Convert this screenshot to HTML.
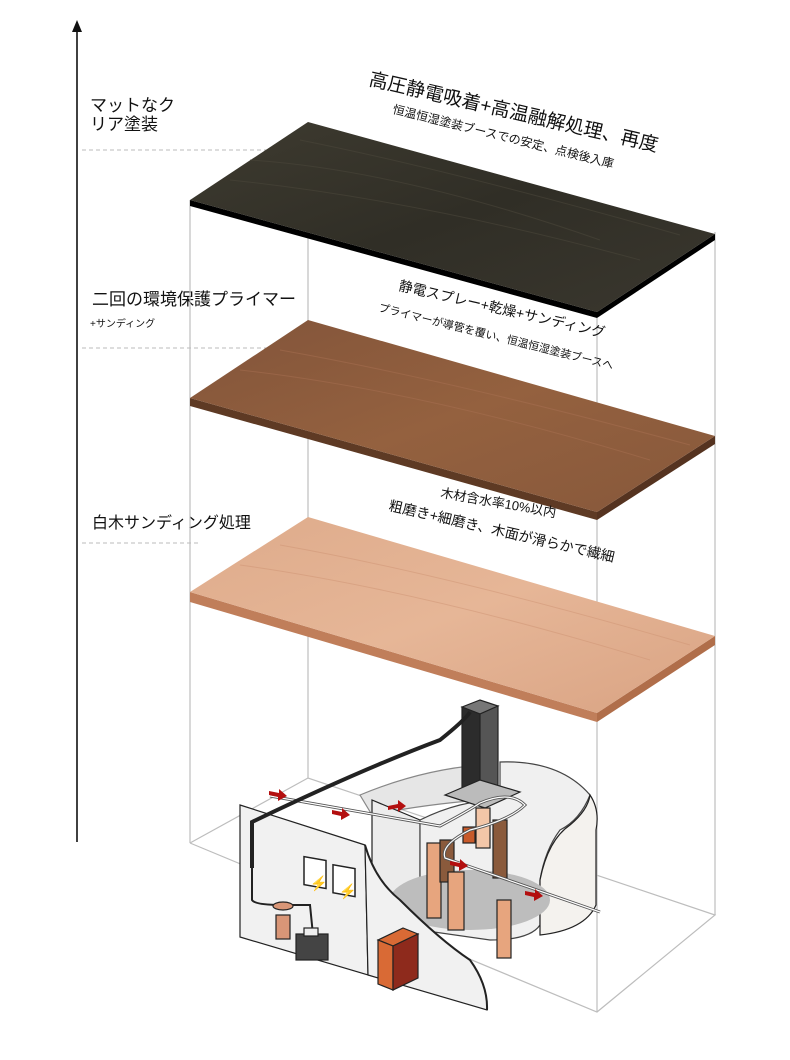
<!DOCTYPE html>
<html><head><meta charset="utf-8"><style>
html,body{margin:0;padding:0;background:#fff}
svg{display:block}
text{font-family:"Liberation Sans","Noto Sans CJK JP",sans-serif;fill:#111}
</style></head><body>
<svg width="790" height="1060" viewBox="0 0 790 1060" xmlns="http://www.w3.org/2000/svg">
<defs>
<linearGradient id="dk" x1="0" y1="0" x2="1" y2="1"><stop offset="0" stop-color="#3e3b30"/><stop offset="0.5" stop-color="#302e26"/><stop offset="1" stop-color="#3a372e"/></linearGradient>
<linearGradient id="md" x1="0" y1="0" x2="1" y2="1"><stop offset="0" stop-color="#82543a"/><stop offset="0.5" stop-color="#94613f"/><stop offset="1" stop-color="#87583b"/></linearGradient>
<linearGradient id="lt" x1="0" y1="0" x2="1" y2="1"><stop offset="0" stop-color="#deab8b"/><stop offset="0.5" stop-color="#e6b697"/><stop offset="1" stop-color="#d9a383"/></linearGradient>
<radialGradient id="flr" cx="0.5" cy="0.5" r="0.6"><stop offset="0" stop-color="#bdbdbd"/><stop offset="1" stop-color="#e8e8e8"/></radialGradient>
</defs>
<line x1="77" y1="30" x2="77" y2="842" stroke="#111" stroke-width="1.6"/>
<polygon points="77,20 72,32 82,32" fill="#111"/>
<g stroke="#bbb" stroke-width="1" stroke-dasharray="4,3">
<line x1="82" y1="150" x2="275" y2="150"/>
<line x1="82" y1="348" x2="310" y2="348"/>
<line x1="82" y1="543" x2="200" y2="543"/>
</g>
<text x="90" y="111" font-size="17">マットなク</text>
<text x="90" y="130" font-size="17">リア塗装</text>
<text x="92" y="305" font-size="17">二回の環境保護プライマー</text>
<text x="90" y="327" font-size="10">+サンディング</text>
<text x="92" y="528" font-size="16">白木サンディング処理</text>
<g stroke="#bdbdbd" stroke-width="1.2" fill="none">
<line x1="190" y1="200" x2="190" y2="843"/>
<line x1="308" y1="210" x2="308" y2="778"/>
<line x1="715" y1="232" x2="715" y2="915"/>
<line x1="597" y1="318" x2="597" y2="1012"/>
<polyline points="190,843 308,778 715,915 597,1012 190,843"/>
</g>
<polygon points="190,592 597,713 597,722 190,602" fill="#c07e5a"/>
<polygon points="597,713 715,636 715,645 597,722" fill="#b06e4a"/>
<polygon points="308,517 715,636 597,713 190,592" fill="url(#lt)"/>
<polygon points="190,398 597,512 597,520 190,406" fill="#5e3a24"/>
<polygon points="597,512 715,436 715,444 597,520" fill="#553320"/>
<polygon points="308,320 715,436 597,512 190,398" fill="url(#md)"/>
<polygon points="190,200 597,312 597,318 190,206" fill="#000"/>
<polygon points="597,312 715,234 715,240 597,318" fill="#000"/>
<polygon points="308,122 715,234 597,312 190,200" fill="url(#dk)"/>
<g stroke="#4a463a" stroke-width="1" fill="none" opacity="0.6">
<path d="M250,160 Q400,170 600,240"/><path d="M230,180 Q420,200 640,260"/><path d="M300,140 Q450,170 680,235"/>
</g>
<g stroke="#a87052" stroke-width="1" fill="none" opacity="0.5">
<path d="M240,370 Q420,390 650,460"/><path d="M280,350 Q450,380 690,445"/>
</g>
<g stroke="#cf9474" stroke-width="1" fill="none" opacity="0.5">
<path d="M240,565 Q420,590 650,660"/><path d="M280,545 Q450,575 690,645"/>
</g>
<text font-size="19" transform="translate(368,85) rotate(13)">高圧静電吸着+高温融解処理、再度</text>
<text font-size="12" transform="translate(392,113) rotate(14)">恒温恒湿塗装ブースでの安定、点検後入庫</text>
<text font-size="14" transform="translate(398,290) rotate(13)">静電スプレー+乾燥+サンディング</text>
<text font-size="11" transform="translate(378,311) rotate(14)">プライマーが導管を覆い、恒温恒湿塗装ブースへ</text>
<text font-size="13" transform="translate(440,497) rotate(10)">木材含水率10%以内</text>
<text font-size="14" transform="translate(388,510) rotate(13)">粗磨き+細磨き、木面が滑らかで繊細</text>
<g stroke="#222" stroke-width="1.2">
<ellipse cx="470" cy="890" rx="110" ry="40" fill="url(#flr)" stroke="none"/>
<path d="M360,795 Q420,770 480,765 L480,800 Q420,805 372,815 Z" fill="#e6e6e6" stroke="#888"/>
<path d="M372,800 L372,915 L420,930 L420,820 Z" fill="#ececec"/>
<path d="M500,762 Q560,760 590,795 Q580,820 560,830 Q545,850 540,880 L540,925 Q530,940 490,940 L420,930 L420,820 Q460,800 500,800 Z" fill="#f0f0f0" stroke="#444"/>
<path d="M590,795 Q600,810 596,830 L596,905 Q585,930 540,935 L540,880 Q548,840 570,825 Q588,810 590,795 Z" fill="#f4f2ee"/>
<ellipse cx="470" cy="900" rx="80" ry="30" fill="#bdbdbd" stroke="none"/>
<polygon points="462,707 480,700 498,706 480,714" fill="#777"/>
<polygon points="462,707 480,714 480,795 462,788" fill="#2c2c2c"/>
<polygon points="480,714 498,706 498,790 480,795" fill="#555"/>
<polygon points="445,795 480,780 520,792 485,808" fill="#bbb"/>
<rect x="427" y="843" width="14" height="75" fill="#e7a57e"/>
<rect x="440" y="840" width="14" height="42" fill="#8a5a3c"/>
<rect x="448" y="872" width="16" height="58" fill="#e7a57e"/>
<rect x="476" y="808" width="14" height="40" fill="#f3c6a8"/>
<rect x="493" y="820" width="14" height="58" fill="#8a5a3c"/>
<rect x="497" y="900" width="14" height="58" fill="#e7a57e"/>
<rect x="463" y="827" width="12" height="16" fill="#c85a2a"/>
<path d="M270,796 L440,826 Q470,810 480,803 Q510,790 525,805 Q510,820 470,830 Q440,845 445,858 L600,912" fill="none" stroke="#555" stroke-width="3"/>
<path d="M270,796 L440,826 Q470,810 480,803 Q510,790 525,805 Q510,820 470,830 Q440,845 445,858 L600,912" fill="none" stroke="#fff" stroke-width="1.2"/>
<path d="M240,805 L365,845 L368,975 L240,937 Z" fill="#f1f1f1"/>
<path d="M365,845 Q375,880 400,900 Q440,940 470,960 Q488,985 487,1010 L368,975 Z" fill="#f1f1f1"/>
<path d="M365,845 Q375,880 400,900 Q440,940 470,960 Q488,985 487,1010" fill="none" stroke="#222" stroke-width="2"/>
<path d="M252,868 L252,822 Q360,770 440,740 Q465,720 470,712" fill="none" stroke="#222" stroke-width="4"/>
<path d="M252,822 L252,900 Q255,905 282,905 L310,905 L313,935" fill="none" stroke="#222" stroke-width="2"/>
<rect x="304" y="858" width="22" height="28" fill="#fff" stroke="#222" stroke-width="1.5" transform="skewY(10) translate(0,-55)"/>
<rect x="333" y="866" width="22" height="28" fill="#fff" stroke="#222" stroke-width="1.5" transform="skewY(10) translate(0,-60)"/>
<text x="310" y="888" font-size="14" style="fill:#111">⚡</text>
<text x="339" y="896" font-size="14" style="fill:#111">⚡</text>
<ellipse cx="283" cy="906" rx="10" ry="4" fill="#d99677"/>
<rect x="276" y="915" width="14" height="24" fill="#d99677"/>
<rect x="296" y="934" width="32" height="26" fill="#444"/>
<rect x="304" y="928" width="14" height="8" fill="#eee"/>
<polygon points="378,940 403,928 418,934 393,946" fill="#d96a35"/>
<polygon points="378,940 393,946 393,990 378,984" fill="#d96a35"/>
<polygon points="393,946 418,934 418,978 393,990" fill="#8e2a1c"/>
</g>
<g fill="#b30f0f">
<path d="M269,791 l10,2 0,-4 8,7 -9,5 0,-4 -9,-2z"/>
<path d="M332,810 l10,2 0,-4 8,7 -9,5 0,-4 -9,-2z"/>
<path d="M388,806 l10,-2 0,-4 8,6 -8,6 0,-4 -10,2z"/>
<path d="M450,861 l10,2 0,-4 8,7 -9,5 0,-4 -9,-2z"/>
<path d="M525,891 l10,2 0,-4 8,7 -9,5 0,-4 -9,-2z"/>
</g>
</svg>
</body></html>
